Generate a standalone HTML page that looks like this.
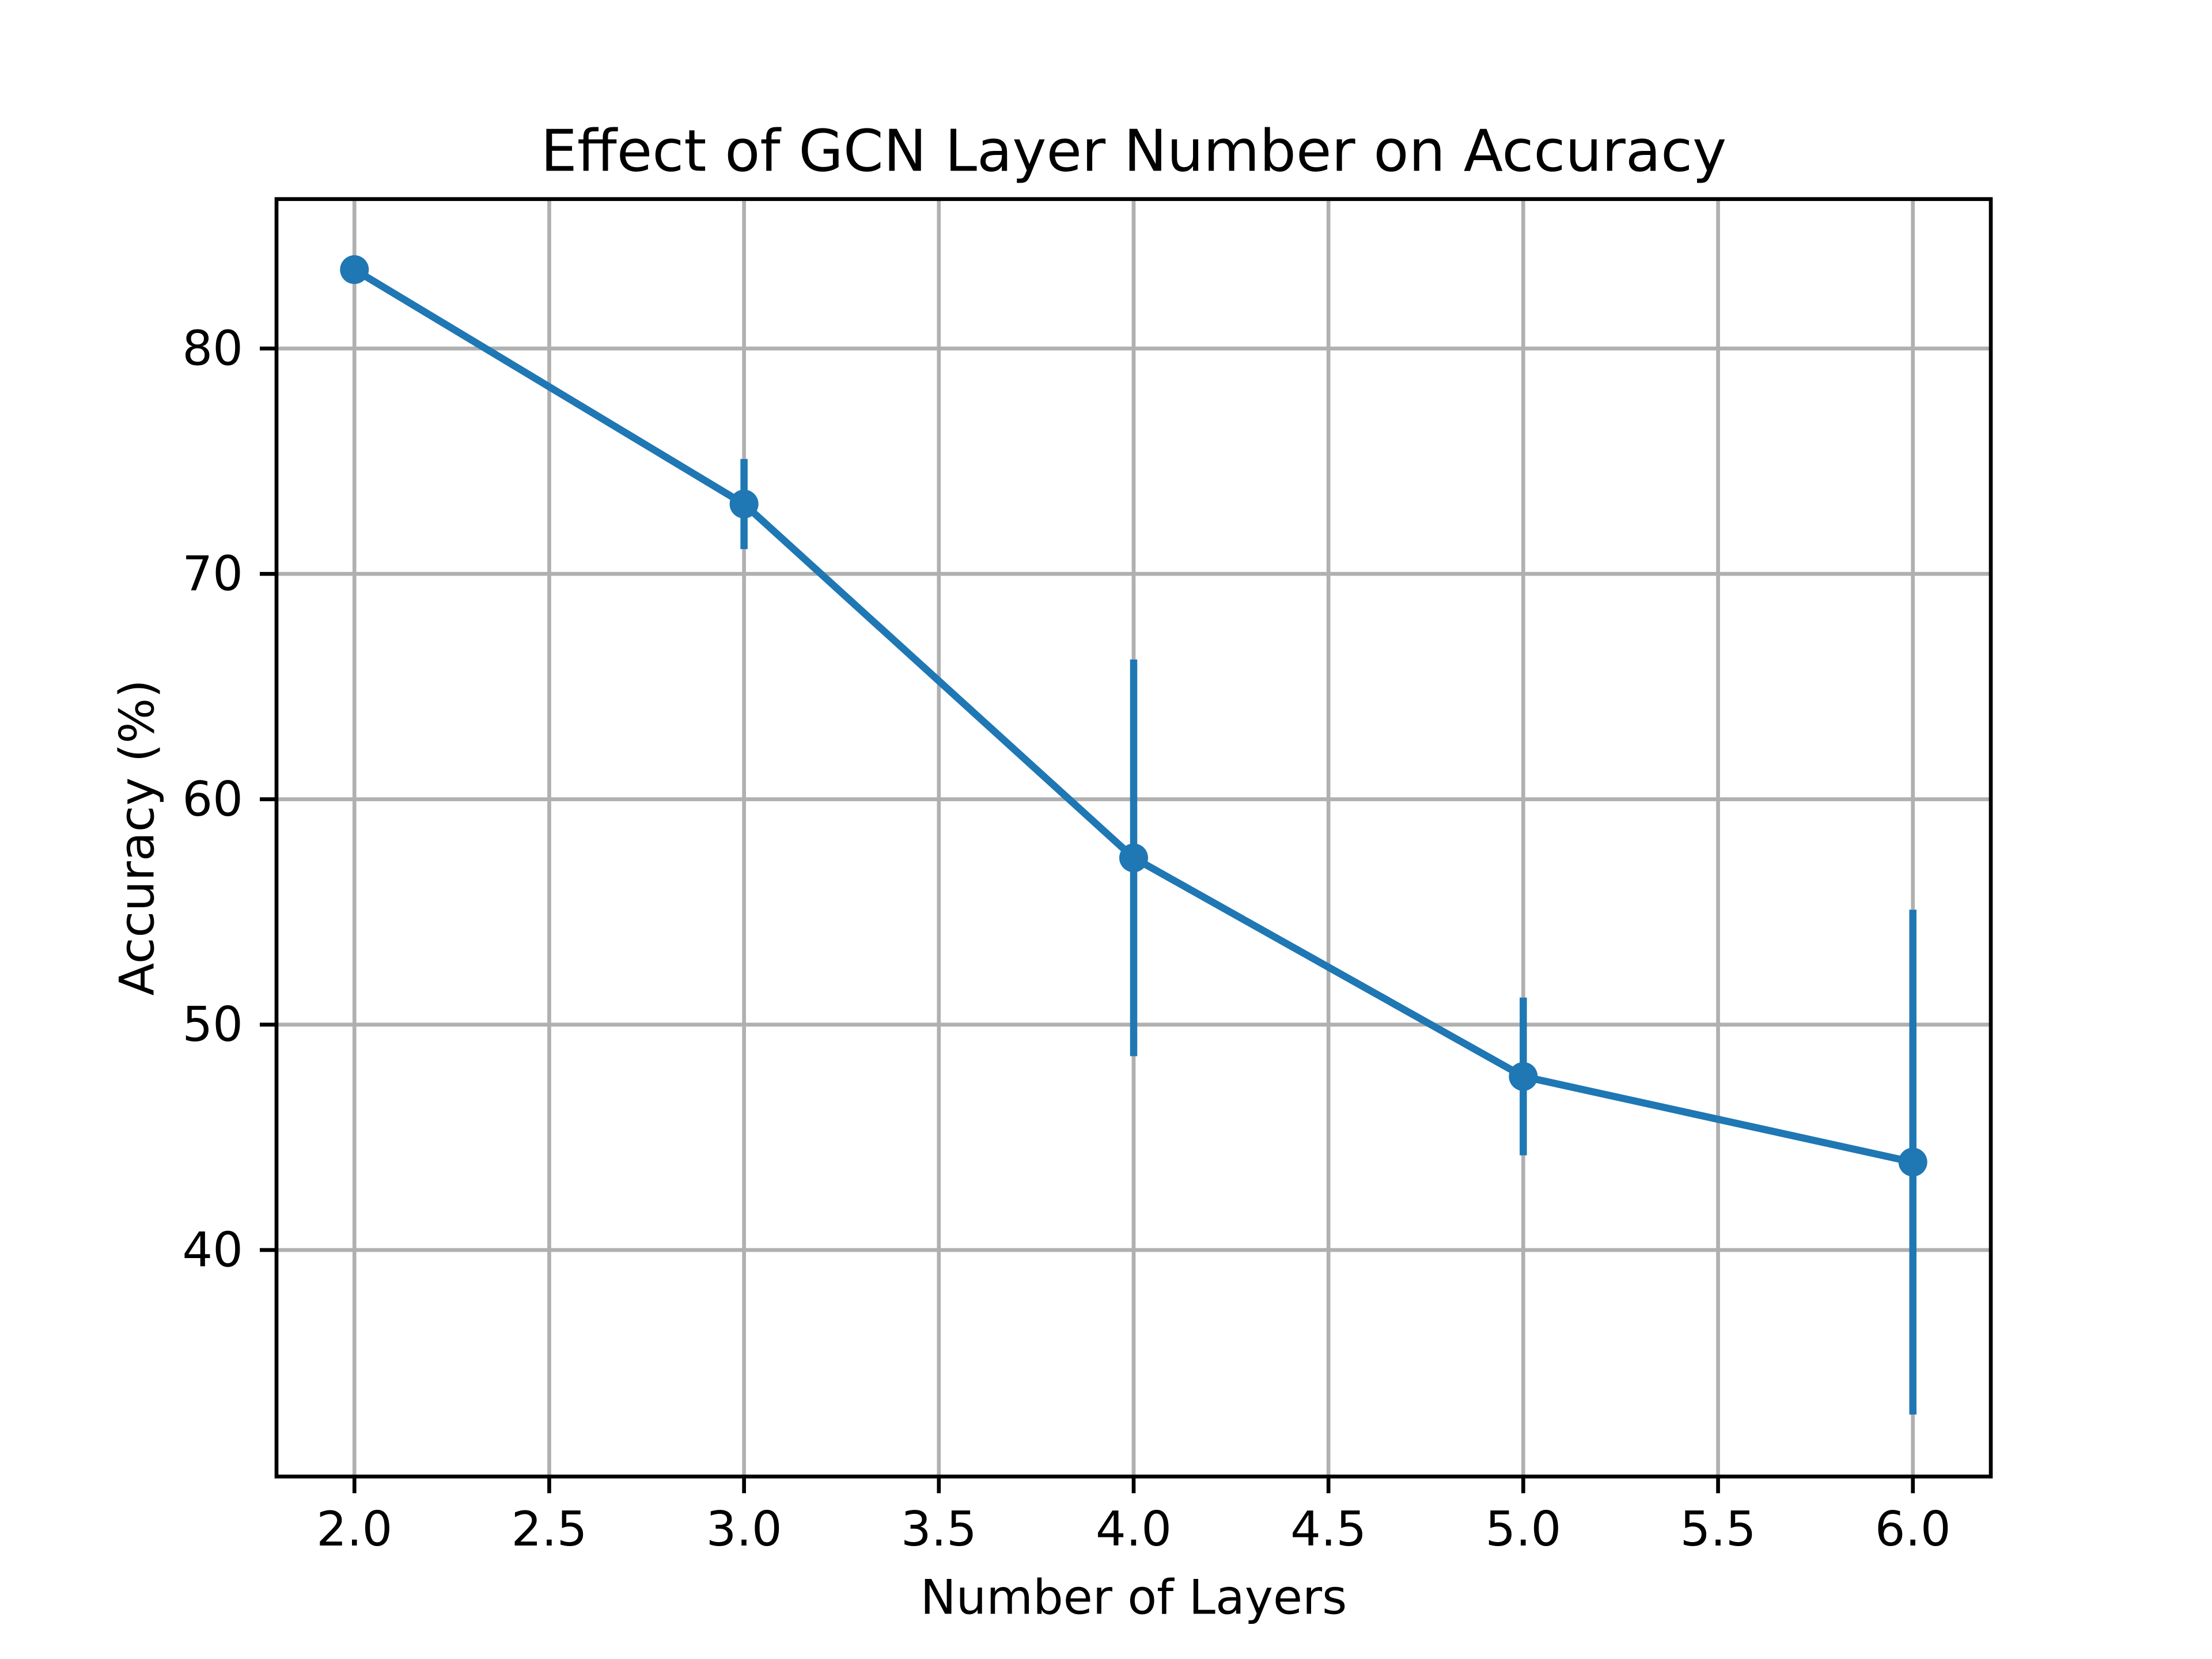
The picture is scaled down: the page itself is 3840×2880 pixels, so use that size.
<!DOCTYPE html>
<html><head><meta charset="utf-8"><style>html,body{margin:0;padding:0;background:#fff}svg{display:block}</style></head>
<body>
<svg id="chart" width="3840" height="2880" viewBox="0 0 3840 2880" xmlns="http://www.w3.org/2000/svg" font-family="'DejaVu Sans','Liberation Sans',sans-serif">
<rect width="3840" height="2880" fill="#fff"/>
<g id="grid"></g>
<g id="series"></g>
<rect x="480" y="345.6" width="2976" height="2217.6" fill="none" stroke="#000" stroke-width="6.67"/>
<g id="ticks"></g>
<text x="1968" y="262" font-size="100" text-anchor="middle" dominant-baseline="central">Effect of GCN Layer Number on Accuracy</text>
<text x="1968" y="2773" font-size="83" text-anchor="middle" dominant-baseline="central">Number of Layers</text>
<text x="238" y="1454" font-size="83" text-anchor="middle" dominant-baseline="central" transform="rotate(-90 238 1454)">Accuracy (%)</text>
</svg>
<script>
const layers = [2, 3, 4, 5, 6];
const accuracy = [83.5, 73.1, 57.4, 47.7, 43.9];
const errors = [0.3, 2.0, 8.8, 3.5, 11.2];
const xTicks = [2.0, 2.5, 3.0, 3.5, 4.0, 4.5, 5.0, 5.5, 6.0];
const yTicks = [40, 50, 60, 70, 80];

const NS = 'http://www.w3.org/2000/svg';
const L = 480, R = 3456, T = 345.6, B = 2563.2;
const xMin = 1.8, xMax = 6.2, yMin = 29.95, yMax = 86.63;
const xs = v => L + (v - xMin) / (xMax - xMin) * (R - L);
const ys = v => B - (v - yMin) / (yMax - yMin) * (B - T);
function mk(tag, attrs, parent) {
  const e = document.createElementNS(NS, tag);
  for (const k in attrs) e.setAttribute(k, attrs[k]);
  parent.appendChild(e);
  return e;
}
const grid = document.getElementById('grid');
const ticks = document.getElementById('ticks');
const series = document.getElementById('series');
xTicks.forEach(v => {
  const x = xs(v);
  const g = mk('line', {x1: x, x2: x, y1: T, y2: B, stroke: '#b0b0b0', 'stroke-width': 6.67}, grid);
  
  
  const t = mk('line', {x1: x, x2: x, y1: B, y2: B + 29, stroke: '#000', 'stroke-width': 6.67}, ticks);
  
  
  const lb = mk('text', {x: x, y: B + 58, 'font-size': 83, 'text-anchor': 'middle', 'dominant-baseline': 'hanging'}, ticks);
  lb.textContent = v.toFixed(1);
  
  
});
yTicks.forEach(v => {
  const y = ys(v);
  const g = mk('line', {x1: L, x2: R, y1: y, y2: y, stroke: '#b0b0b0', 'stroke-width': 6.67}, grid);
  
  
  const t = mk('line', {x1: L - 29, x2: L, y1: y, y2: y, stroke: '#000', 'stroke-width': 6.67}, ticks);
  
  
  const lb = mk('text', {x: L - 58, y: y, 'font-size': 83, 'text-anchor': 'end', 'dominant-baseline': 'central'}, ticks);
  lb.textContent = String(v);
  
  
});
const pts = layers.map((l, i) => xs(l) + ',' + ys(accuracy[i])).join(' ');
const line = mk('polyline', {points: pts, fill: 'none', stroke: '#1f77b4', 'stroke-width': 12.5, 'stroke-linejoin': 'round'}, series);


layers.forEach((l, i) => {
  const x = xs(l);
  const eb = mk('line', {x1: x, x2: x, y1: ys(accuracy[i] + errors[i]), y2: ys(accuracy[i] - errors[i]), stroke: '#1f77b4', 'stroke-width': 12.5}, series);
  
  
  const c = mk('circle', {cx: x, cy: ys(accuracy[i]), r: 25, fill: '#1f77b4'}, series);
  
  
});
</script>
</body></html>
